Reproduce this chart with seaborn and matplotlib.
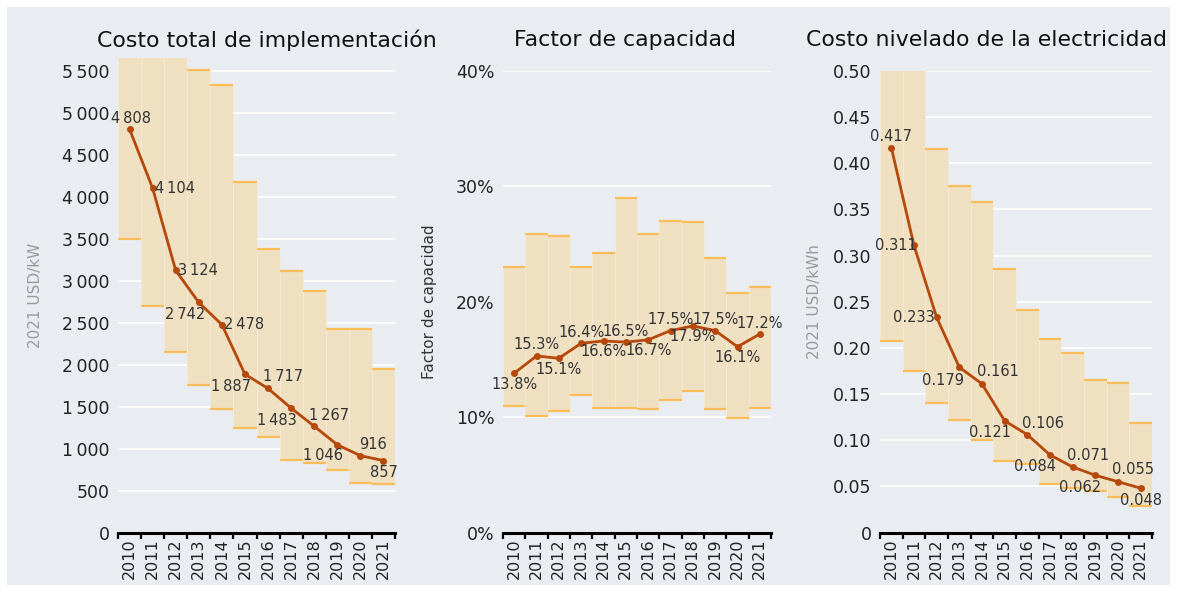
import numpy as np
import seaborn as sns
import matplotlib.pyplot as plt
from matplotlib.patches import Rectangle
from matplotlib.ticker import FixedLocator, FuncFormatter

years = [str(y) for y in range(2010, 2022)]

# Costo total de implementacion (2021 USD/kW)
cost_avg = [4808, 4104, 3124, 2742, 2478, 1887, 1717, 1483, 1267, 1046, 916, 857]
cost_low = [3496, 2698, 2155, 1758, 1468, 1242, 1143, 869, 833, 746, 587, 575]
cost_high = [5900, 5900, 5900, 5512, 5337, 4179, 3381, 3123, 2873, 2421, 2421, 1948]

# Factor de capacidad
cf_avg = [0.138, 0.153, 0.151, 0.164, 0.166, 0.165, 0.167, 0.175, 0.179, 0.175, 0.161, 0.172]
cf_low = [0.110, 0.101, 0.105, 0.119, 0.108, 0.108, 0.107, 0.115, 0.123, 0.107, 0.099, 0.108]
cf_high = [0.230, 0.259, 0.257, 0.230, 0.242, 0.290, 0.259, 0.270, 0.269, 0.238, 0.208, 0.213]

# Costo nivelado de la electricidad (2021 USD/kWh)
lcoe_avg = [0.417, 0.311, 0.233, 0.179, 0.161, 0.121, 0.106, 0.084, 0.071, 0.062, 0.055, 0.048]
lcoe_low = [0.208, 0.175, 0.140, 0.122, 0.100, 0.078, 0.074, 0.053, 0.048, 0.045, 0.038, 0.029]
lcoe_high = [0.55, 0.55, 0.416, 0.375, 0.358, 0.286, 0.241, 0.210, 0.194, 0.165, 0.162, 0.119]

BG = '#e9ecf1'
BAR = '#efe0c2'
EDGE = '#fbbd58'
LINE = '#b5480a'
TXT = '#222222'

sns.set_theme(style='darkgrid', rc={'axes.facecolor': BG, 'grid.color': 'white',
                                    'grid.linewidth': 1.2})
plt.rcParams['font.family'] = ['DejaVu Sans']

fig = plt.figure(figsize=(11.77, 5.92), dpi=100)
fig.patch.set_facecolor('white')
fig.patches.append(Rectangle((7 / 1177, 7 / 592), 1163 / 1177, 578 / 592,
                             transform=fig.transFigure, facecolor=BG, edgecolor='none', zorder=-10))

W, H = 1177, 592


def make_ax(left, right, top, bottom=532.5):
    return fig.add_axes([left / W, 1 - bottom / H, (right - left) / W, (bottom - top) / H])


def px(dx, dy):
    # pixel offsets (y down) -> points (y up)
    return (dx * 0.72, -dy * 0.72)


def panel(ax, avg, low, high, ymax, ticks, fmt, labels, offsets, ylabel, ylabel_color):
    x = np.arange(len(years))
    heights = np.array(high) - np.array(low)
    ax.bar(x, heights, bottom=low, width=1.0, color=BAR, edgecolor='#f6ead6',
           linewidth=0.6, zorder=2)
    ax.hlines(low, x - 0.5, x + 0.5, color=EDGE, linewidth=1.6, zorder=3)
    shown = [(xi, h) for xi, h in zip(x, high) if h < ymax]
    ax.hlines([h for _, h in shown], [xi - 0.5 for xi, _ in shown],
              [xi + 0.5 for xi, _ in shown], color=EDGE, linewidth=1.6, zorder=3)
    sns.lineplot(x=x, y=avg, ax=ax, color=LINE, linewidth=2, marker='o', markersize=5,
                 markeredgewidth=0, zorder=5)
    for xi, yi, lab, off in zip(x, avg, labels, offsets):
        ax.annotate(lab, (xi, yi), xytext=px(*off), textcoords='offset points',
                    ha='center', va='center', fontsize=10.5, color='#333333', zorder=6)
    ax.set_xlim(-0.5, len(years) - 0.5)
    ax.set_ylim(0, ymax)
    ax.yaxis.set_major_locator(FixedLocator(ticks))
    ax.yaxis.set_major_formatter(FuncFormatter(fmt))
    ax.grid(axis='x', visible=False)
    ax.grid(axis='y', zorder=0)
    ax.set_axisbelow(True)
    for s in ['top', 'right', 'left']:
        ax.spines[s].set_visible(False)
    ax.spines['bottom'].set_visible(True)
    ax.spines['bottom'].set_color('black')
    ax.spines['bottom'].set_linewidth(2.2)
    ax.spines['bottom'].set_zorder(7)
    ax.set_xticks(x)
    ax.set_xticklabels(years, rotation=90, fontsize=11.5, color=TXT)
    ax.set_xticks(np.arange(-0.5, len(years)), minor=True)
    ax.tick_params(axis='x', which='major', length=0, pad=4)
    ax.tick_params(axis='x', which='minor', length=4, width=1.6, color='black', bottom=True)
    ax.tick_params(axis='y', length=0, labelsize=12.5, labelcolor=TXT, pad=6)
    ax.set_ylabel(ylabel, fontsize=11, color=ylabel_color)


def thousands(v, pos):
    return f'{int(v):,}'.replace(',', '\u2009')


def pct(v, pos):
    return f'{v * 100:.0f}%'


def dec(v, pos):
    return '0' if v == 0 else f'{v:.2f}'


ax1 = make_ax(118, 395, 57.7)
cost_lbls = [thousands(v, 0) for v in cost_avg]
cost_offs = [(1, -11), (22, 0), (22, 0), (-14, 12), (22, 0), (-14, 12), (15, -12),
             (-14, 12), (15, -11), (-14, 11), (13, -11), (0, 12)]
panel(ax1, cost_avg, cost_low, cost_high, 5660, list(range(0, 5501, 500)), thousands,
      cost_lbls, cost_offs, '2021 USD/kW', '#9a9a9a')
ax1.yaxis.labelpad = 14

ax2 = make_ax(503, 771, 71)
cf_lbls = [f'{v * 100:.1f}%' for v in cf_avg]
cf_offs = [(0, 11) if i % 2 == 0 else (0, -11) for i in range(len(cf_avg))]
panel(ax2, cf_avg, cf_low, cf_high, 0.40, [0, 0.1, 0.2, 0.3, 0.4], pct,
      cf_lbls, cf_offs, 'Factor de capacidad', '#333333')
ax2.yaxis.labelpad = 14

ax3 = make_ax(880, 1152, 71)
lcoe_lbls = [f'{v:.3f}' for v in lcoe_avg]
lcoe_offs = [(0, -11), (-18, 0), (-23, 0), (-16, 13), (16, -12), (-15, 12), (16, -11),
             (-15, 12), (15, -11), (-15, 12), (15, -12), (0, 12)]
panel(ax3, lcoe_avg, lcoe_low, lcoe_high, 0.50, [0, 0.05, 0.1, 0.15, 0.2, 0.25, 0.3, 0.35, 0.4, 0.45, 0.5],
      dec, lcoe_lbls, lcoe_offs, '2021 USD/kWh', '#9a9a9a')
ax3.yaxis.labelpad = 8

fig.text(267 / W, 1 - 40 / H, 'Costo total de implementación', ha='center', va='center',
         fontsize=15.8, color='#111111')
fig.text(625 / W, 1 - 40 / H, 'Factor de capacidad', ha='center', va='center',
         fontsize=15.8, color='#111111')
fig.text(987 / W, 1 - 40 / H, 'Costo nivelado de la electricidad', ha='center', va='center',
         fontsize=15.8, color='#111111')

fig.savefig('out.png', dpi=100, facecolor='white')
